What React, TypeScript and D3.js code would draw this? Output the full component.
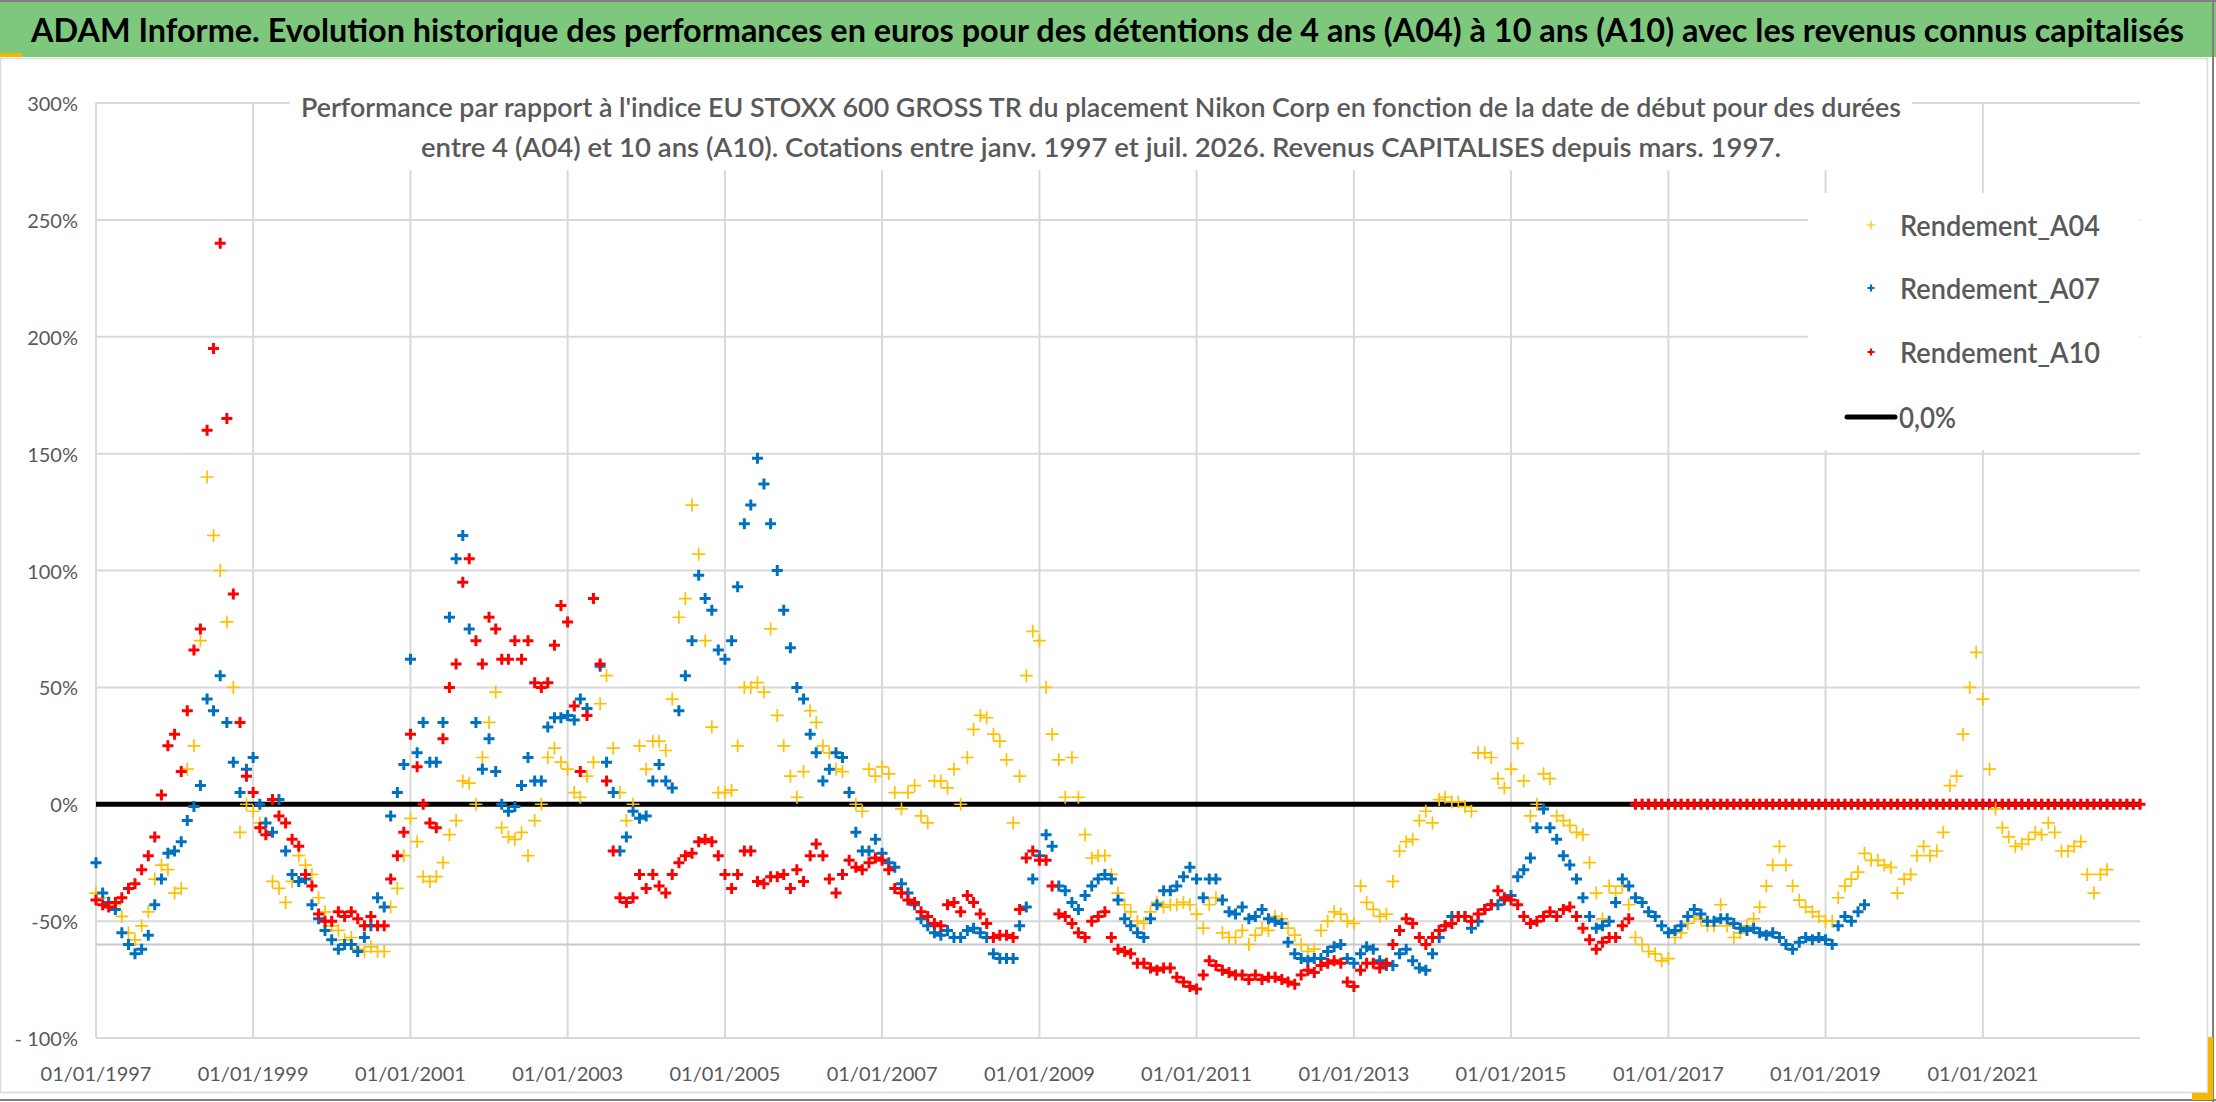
import React, { useEffect, useRef } from 'react';
import * as d3 from 'd3';

// Monthly readings in % (first of each month), starting January 1997
const rendementA04: number[] = [
  -38, -40, -42, -43, -48, -55, -58, -52, -46, -32, -26, -28, // 1997
  -38, -36, 15, 25, 70, 140, 115, 100, 78, 50, -12, 0,
  -3, -8, -8, -33, -36, -42, -33, -22, -26, -30, -40, -46,
  -52, -54, -58, -57, -62, -63, -61, -63, -63, -44, -36, -22, // 2000
  -6, -16, -31, -33, -31, -25, -13, -7, 10, 9, 0, 20,
  35, 48, -10, -14, -15, -12, -22, -7, 0, 20, 24, 18,
  15, 5, 3, 12, 18, 43, 55, 24, 5, -7, 0, 25,
  15, 27, 27, 23, 45, 80, 88, 128, 107, 70, 33, 5,
  5, 6, 25, 50, 50, 52, 48, 75, 38, 25, 12, 3, // 2005
  14, 40, 35, 25, 22, 15, 14, 5, 0, -3, 15, 12,
  16, 13, 5, -2, 5, 8, -5, -8, 10, 10, 7, 15,
  0, 20, 32, 38, 37, 30, 27, 19, -8, 12, 55, 74,
  70, 50, 30, 19, 3, 20, 3, -13, -23, -22, -22, -30,
  -38, -43, -46, -50, -51, -46, -42, -44, -43, -43, -42, -43, // 2010
  -47, -53, -43, -40, -55, -57, -57, -54, -60, -56, -53, -54,
  -48, -49, -53, -56, -60, -63, -62, -54, -50, -46, -47, -50,
  -51, -35, -42, -45, -48, -47, -33, -20, -16, -15, -7, -3,
  -8, 2, 3, 1, 1, -1, -3, 22, 22, 20, 11, 7,
  15, 26, 10, -5, 0, 13, 11, -5, -7, -9, -12, -13, // 2015
  -25, -38, -49, -35, -38, -35, -43, -57, -60, -63, -64, -67,
  -66, -57, -55, -51, -48, -49, -52, -52, -43, -52, -57, -55,
  -52, -49, -44, -35, -26, -18, -26, -35, -41, -44, -46, -48,
  -50, -50, -40, -35, -32, -29, -21, -24, -24, -26, -27, -38,
  -32, -30, -22, -18, -22, -20, -12, 8, 12, 30, 50, 65, // 2020
  45, 15, -2, -10, -14, -18, -17, -15, -12, -13, -8, -12,
  -20, -20, -18, -16, -30, -38, -30, -28,
];

const rendementA07: number[] = [
  -25, -38, -42, -45, -55, -60, -64, -62, -56, -43, -32, -21, // 1997
  -20, -16, -7, -1, 8, 45, 40, 55, 35, 18, 5, 15,
  20, 0, -8, -12, 2, -20, -30, -33, -32, -43, -49, -54,
  -58, -62, -60, -60, -63, -57, -52, -40, -44, -5, 5, 17, // 2000
  62, 22, 35, 18, 18, 35, 80, 105, 115, 75, 35, 15,
  28, 14, 0, -3, -1, 8, 20, 10, 10, 33, 37, 37,
  38, 36, 45, 41, 88, 59, 18, 5, -20, -14, -3, -6,
  -5, 10, 17, 10, 7, 40, 55, 70, 98, 88, 83, 66,
  62, 70, 93, 120, 128, 148, 137, 120, 100, 83, 67, 50, // 2005
  45, 30, 22, 10, 15, 22, 20, 5, -12, -20, -20, -15,
  -21, -25, -27, -34, -38, -43, -49, -52, -55, -56, -54, -57,
  -57, -54, -53, -55, -57, -64, -66, -66, -66, -52, -44, -32,
  -22, -13, -18, -35, -37, -42, -45, -39, -35, -32, -30, -32,
  -41, -49, -52, -55, -57, -49, -43, -37, -37, -35, -31, -27, // 2010
  -32, -40, -32, -32, -41, -46, -47, -44, -49, -48, -45, -49,
  -50, -51, -59, -64, -66, -67, -66, -66, -63, -61, -60, -66,
  -68, -64, -61, -62, -67, -69, -69, -64, -62, -67, -70, -71,
  -64, -57, -52, -48, -48, -48, -53, -50, -45, -43, -43, -41,
  -39, -31, -28, -23, -10, -2, -10, -15, -22, -26, -32, -40, // 2015
  -48, -53, -52, -50, -42, -32, -35, -40, -42, -46, -48, -52,
  -55, -54, -52, -48, -45, -47, -50, -50, -49, -49, -51, -53,
  -54, -53, -55, -56, -55, -57, -60, -62, -59, -57, -58, -57,
  -58, -60, -52, -48, -50, -46, -43,
];

const rendementA10: number[] = [
  -41, -43, -44, -42, -40, -36, -34, -28, -22, -14, 4, 25, // 1997
  30, 14, 40, 66, 75, 160, 195, 240, 165, 90, 35, 12,
  5, -10, -13, 2, -5, -8, -15, -18, -30, -35, -47, -50,
  -50, -46, -48, -46, -49, -52, -48, -52, -52, -32, -22, -12, // 2000
  30, 16, 0, -8, -10, 28, 50, 60, 95, 105, 70, 60,
  80, 75, 62, 62, 70, 62, 70, 52, 50, 52, 68, 85,
  78, 42, 14, 38, 88, 60, 10, -20, -40, -42, -40, -30,
  -36, -30, -35, -38, -30, -25, -22, -21, -16, -15, -16, -22,
  -30, -36, -30, -20, -20, -33, -34, -31, -31, -30, -36, -28, // 2005
  -33, -22, -17, -22, -32, -38, -30, -24, -27, -28, -25, -23,
  -24, -28, -36, -38, -41, -42, -46, -48, -51, -52, -43, -42,
  -46, -39, -42, -47, -51, -57, -56, -56, -57, -45, -23, -20,
  -24, -24, -35, -47, -48, -51, -55, -57, -50, -48, -46, -57,
  -62, -63, -64, -68, -68, -70, -71, -70, -70, -74, -76, -78, // 2010
  -79, -73, -67, -69, -71, -72, -73, -73, -75, -73, -75, -74,
  -74, -75, -76, -77, -73, -71, -72, -69, -68, -67, -68, -76,
  -78, -71, -68, -68, -70, -68, -60, -54, -49, -51, -57, -60,
  -57, -54, -52, -51, -48, -48, -50, -47, -45, -43, -37, -40,
  -41, -43, -48, -51, -50, -48, -46, -48, -45, -44, -48, -53, // 2015
  -58, -62, -59, -57, -57, -52, -49,
];

// A10 cells with no 10-year window left (Aug 2016 -> Jan 2023) show up at 0
const rendementA10Vide: number[] = [
  0, 0, 0, 0, 0,
  0, 0, 0, 0, 0, 0, 0, 0, 0, 0, 0, 0,
  0, 0, 0, 0, 0, 0, 0, 0, 0, 0, 0, 0,
  0, 0, 0, 0, 0, 0, 0, 0, 0, 0, 0, 0,
  0, 0, 0, 0, 0, 0, 0, 0, 0, 0, 0, 0,
  0, 0, 0, 0, 0, 0, 0, 0, 0, 0, 0, 0,
  0, 0, 0, 0, 0, 0, 0, 0, 0, 0, 0, 0,
  0,
];

const yTickValues = [300, 250, 200, 150, 100, 50, 0, -50, -100];
const yTickLabels = ['300%', '250%', '200%', '150%', '100%', '50%', '0%', '-50%', '- 100%'];
const xTickYears = [1997, 1999, 2001, 2003, 2005, 2007, 2009, 2011, 2013, 2015, 2017, 2019, 2021];
const legendLabels = ['Rendement_A04', 'Rendement_A07', 'Rendement_A10', '0,0%'];
const seriesColors = ['#FFC000', '#0070C0', '#FF0000'];
const extraLine = -60;

const TITLE = 'ADAM Informe. Evolution historique des performances en euros pour des détentions de 4 ans (A04) à 10 ans (A10) avec les revenus connus capitalisés';
const SUB1 = "Performance par rapport à l'indice EU STOXX 600 GROSS TR  du placement Nikon Corp en fonction de la date de début pour des durées";
const SUB2 = 'entre 4 (A04) et 10 ans (A10). Cotations entre janv. 1997 et juil. 2026. Revenus CAPITALISES depuis mars. 1997.';

const FONT = 'Lato, "Open Sans", sans-serif';

const plus = (s: number) => `M${-s},0H${s}M0,${-s}V${s}`;

const App: React.FC = () => {
  const svgRef = useRef<SVGSVGElement>(null);

  useEffect(() => {
    if (!svgRef.current) return;
    const svg = d3.select(svgRef.current);
    svg.selectAll('*').remove();

    const W = 2216;
    const H = 1102;
    const start = new Date(1997, 0, 1);

    const x = d3.scaleTime()
      .domain([start, new Date(2023, 0, 1)])
      .range([96, 2140]);
    const y = d3.scaleLinear()
      .domain([-100, 300])
      .range([1038, 103]);

    svg.append('rect').attr('width', W).attr('height', H).attr('fill', '#ffffff');

    // Title band
    svg.append('rect').attr('x', 0).attr('y', 0).attr('width', W).attr('height', 57).attr('fill', '#7ec87e');
    svg.append('rect').attr('x', 0).attr('y', 0).attr('width', W).attr('height', 2).attr('fill', '#7f7f7f');
    svg.append('rect').attr('x', 0).attr('y', 53).attr('width', 22).attr('height', 4).attr('fill', '#f5b800');
    svg.append('text')
      .attr('x', 31).attr('y', 29)
      .attr('dominant-baseline', 'central')
      .attr('textLength', 2153).attr('lengthAdjust', 'spacingAndGlyphs')
      .style('font-family', FONT).style('font-size', '32px').style('font-weight', 'bold')
      .style('fill', '#000000')
      .text(TITLE);

    // Chart frame
    svg.append('rect').attr('x', 0.5).attr('y', 58.5).attr('width', 2207).attr('height', 1034)
      .attr('fill', 'none').attr('stroke', '#d9d9d9').attr('stroke-width', 1.5);
    svg.append('line').attr('x1', 2213).attr('x2', 2213).attr('y1', 0).attr('y2', H)
      .attr('stroke', '#7f7f7f').attr('stroke-width', 2);
    svg.append('line').attr('x1', 0).attr('x2', W).attr('y1', 1100).attr('y2', 1100)
      .attr('stroke', '#7f7f7f').attr('stroke-width', 2);
    svg.append('rect').attr('x', 2208).attr('y', 1037).attr('width', 5).attr('height', 63).attr('fill', '#f5b800');
    svg.append('rect').attr('x', 2192).attr('y', 1093).attr('width', 21).attr('height', 7).attr('fill', '#f5b800');

    const g = svg.append('g');

    // Grid
    g.selectAll('.hgrid')
      .data(yTickValues)
      .enter()
      .append('line')
      .attr('x1', x(start)).attr('x2', 2140)
      .attr('y1', d => y(d)).attr('y2', d => y(d))
      .attr('stroke', '#d9d9d9').attr('stroke-width', 2);
    g.selectAll('.vgrid')
      .data(xTickYears)
      .enter()
      .append('line')
      .attr('x1', d => x(new Date(d, 0, 1))).attr('x2', d => x(new Date(d, 0, 1)))
      .attr('y1', y(300)).attr('y2', y(-100))
      .attr('stroke', '#d9d9d9').attr('stroke-width', 2);
    g.append('line')
      .attr('x1', x(start)).attr('x2', 2140)
      .attr('y1', y(extraLine)).attr('y2', y(extraLine))
      .attr('stroke', '#c8c8c8').attr('stroke-width', 2);

    // Axis labels
    g.selectAll('.ylab')
      .data(yTickValues)
      .enter()
      .append('text')
      .attr('x', 78).attr('y', d => y(d))
      .attr('text-anchor', 'end').attr('dominant-baseline', 'central')
      .style('font-family', FONT).style('font-size', '20px').style('fill', '#595959')
      .text((_, i) => yTickLabels[i]);
    g.selectAll('.xlab')
      .data(xTickYears)
      .enter()
      .append('text')
      .attr('x', d => x(new Date(d, 0, 1))).attr('y', 1073)
      .attr('text-anchor', 'middle').attr('dominant-baseline', 'central')
      .style('font-family', FONT).style('font-size', '20px').style('fill', '#595959')
      .text(d => d3.timeFormat('%d/%m/%Y')(new Date(d, 0, 1)));

    // 0,0% reference line
    g.append('line')
      .attr('x1', x(start)).attr('x2', 2140)
      .attr('y1', y(0)).attr('y2', y(0))
      .attr('stroke', '#000000').attr('stroke-width', 5);

    const drawSeries = (values: number[], offset: number, color: string, size: number, width: number) => {
      g.append('g')
        .selectAll('path')
        .data(values)
        .enter()
        .append('path')
        .attr('transform', (d, i) => `translate(${x(d3.timeMonth.offset(start, offset + i))},${y(d)})`)
        .attr('d', plus(size))
        .attr('fill', 'none')
        .attr('stroke', color)
        .attr('stroke-width', width);
    };

    drawSeries(rendementA10Vide, rendementA10.length, seriesColors[2], 5.5, 3.2);
    drawSeries(rendementA04, 0, seriesColors[0], 6.5, 1.7);
    drawSeries(rendementA07, 0, seriesColors[1], 5.5, 3);
    drawSeries(rendementA10, 0, seriesColors[2], 5.5, 3);

    // Subtitle block (hides grid behind it)
    svg.append('rect').attr('x', 290).attr('y', 80).attr('width', 1622).attr('height', 90).attr('fill', '#ffffff');
    svg.append('text')
      .attr('x', 301).attr('y', 106)
      .attr('dominant-baseline', 'central')
      .attr('textLength', 1600).attr('lengthAdjust', 'spacingAndGlyphs')
      .style('font-family', FONT).style('font-size', '27px').style('font-weight', '600')
      .style('fill', '#595959')
      .text(SUB1);
    svg.append('text')
      .attr('x', 421).attr('y', 146)
      .attr('dominant-baseline', 'central')
      .attr('textLength', 1360).attr('lengthAdjust', 'spacingAndGlyphs')
      .style('font-family', FONT).style('font-size', '27px').style('font-weight', '600')
      .style('fill', '#595959')
      .text(SUB2);

    // Legend
    const legend = svg.append('g');
    legend.append('rect').attr('x', 1808).attr('y', 193).attr('width', 331).attr('height', 257).attr('fill', '#ffffff');
    const rowY = [225, 288, 352, 417];
    legendLabels.forEach((label, i) => {
      if (i < 3) {
        legend.append('path')
          .attr('transform', `translate(1871,${rowY[i]})`)
          .attr('d', plus(i === 0 ? 4.5 : 3.5))
          .attr('fill', 'none')
          .attr('stroke', seriesColors[i])
          .attr('stroke-width', i === 0 ? 1.2 : 2);
        legend.append('text')
          .attr('x', 1900).attr('y', rowY[i])
          .attr('dominant-baseline', 'central')
          .attr('textLength', 200).attr('lengthAdjust', 'spacingAndGlyphs')
          .style('font-family', FONT).style('font-size', '28px').style('font-weight', '600')
          .style('fill', '#595959')
          .text(label);
      } else {
        legend.append('line')
          .attr('x1', 1847).attr('x2', 1895)
          .attr('y1', rowY[i]).attr('y2', rowY[i])
          .attr('stroke', '#000000').attr('stroke-width', 5).attr('stroke-linecap', 'round');
        legend.append('text')
          .attr('x', 1899).attr('y', rowY[i])
          .attr('dominant-baseline', 'central')
          .attr('textLength', 57).attr('lengthAdjust', 'spacingAndGlyphs')
          .style('font-family', FONT).style('font-size', '28px').style('font-weight', '600')
          .style('fill', '#595959')
          .text(label);
      }
    });
  }, []);

  return (
    <svg
      ref={svgRef}
      width={2216}
      height={1102}
      style={{ position: 'absolute', left: 0, top: 0, display: 'block' }}
    />
  );
};

export default App;
